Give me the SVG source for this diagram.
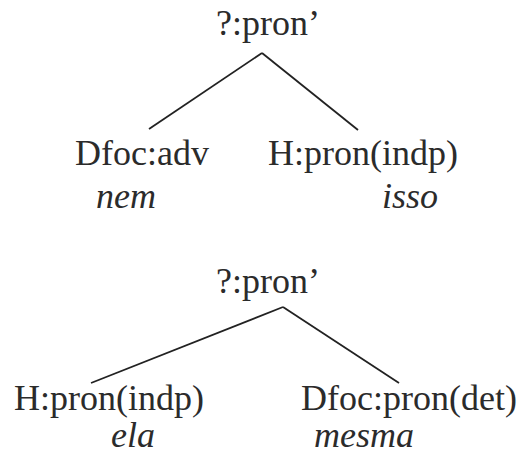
<svg xmlns="http://www.w3.org/2000/svg" width="530" height="470" viewBox="0 0 530 470">
<style>
text{font-family:'Liberation Serif','Times New Roman',Times,serif;font-size:36px;fill:#2b2b2b}
.i{font-style:italic}
.c line{stroke:#222;stroke-width:1.8;fill:none}
</style>
<rect width="530" height="470" fill="#fff"/>
<g class="c" id="connectors">
<line x1="262" y1="53" x2="149" y2="129"/>
<line x1="262" y1="53" x2="358" y2="130"/>
<line x1="283" y1="307" x2="91" y2="383"/>
<line x1="283" y1="307" x2="399" y2="383"/>
</g>
<g id="t1root"><text x="216" y="35">?:pron’</text></g>
<g id="t1left"><text x="75" y="165">Dfoc:adv</text><text class="i" x="96" y="208">nem</text></g>
<g id="t1right"><text x="268" y="165">H:pron(indp)</text><text class="i" x="382" y="208">isso</text></g>
<g id="t2root"><text x="216" y="293">?:pron’</text></g>
<g id="t2left"><text x="14" y="410">H:pron(indp)</text><text class="i" x="111" y="447">ela</text></g>
<g id="t2right"><text x="301" y="410">Dfoc:pron(det)</text><text class="i" x="314" y="447">mesma</text></g>
</svg>
